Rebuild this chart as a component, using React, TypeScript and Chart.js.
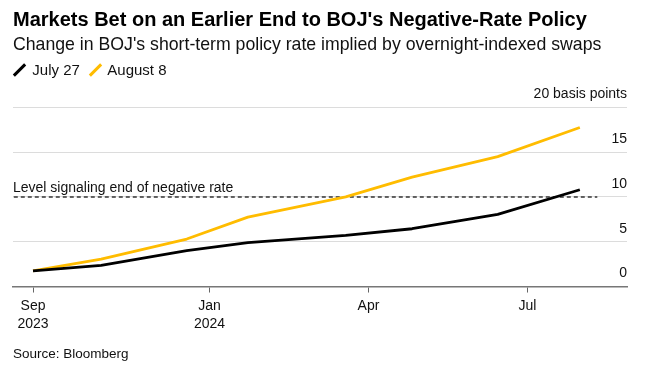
import React, { useEffect, useRef } from 'react';
import { Chart, registerables } from 'chart.js';

Chart.register(...registerables);

// ---- data ----
const meetingDates = ['2023-09-22', '2023-10-31', '2023-12-19', '2024-01-23', '2024-03-19', '2024-04-26', '2024-06-14', '2024-07-31'];
const july27 = [1.75, 2.35, 4.0, 4.9, 5.7, 6.45, 8.05, 10.8];
const august8 = [1.75, 3.05, 5.3, 7.75, 10.0, 12.2, 14.5, 17.75];
const seriesNames = ['July 27', 'August 8'];
const xTickDates = ['2023-09-22', '2024-01-01', '2024-04-01', '2024-07-01'];
const xTickLabels = [['Sep', '2023'], ['Jan', '2024'], ['Apr'], ['Jul']];
const yTicks = [0, 5, 10, 15, 20];
const yTickLabels = ['0', '5', '10', '15', '20 basis points'];
const thresholdLevel = 10;
const thresholdRange = ['2023-09-11', '2024-08-10'];
const thresholdLabel = 'Level signaling end of negative rate';
const xRange = ['2023-09-11', '2024-08-27'];

const title = "Markets Bet on an Earlier End to BOJ's Negative-Rate Policy";
const subtitle = "Change in BOJ's short-term policy rate implied by overnight-indexed swaps";
const source = 'Source: Bloomberg';

const FONT = '"Liberation Sans", Arial, Helvetica, sans-serif';
const YELLOW = '#FFBC00';

const dayNum = (s: string) => {
  const [y, m, d] = s.split('-').map(Number);
  return (Date.UTC(y, m - 1, d) - Date.UTC(2024, 0, 1)) / 86400000;
};

const levelLabelPlugin = {
  id: 'levelLabel',
  afterDraw(chart: any) {
    const { ctx, chartArea, scales } = chart;
    const y = scales.y.getPixelForValue(thresholdLevel);
    ctx.save();
    ctx.font = `14px ${FONT}`;
    ctx.fillStyle = '#111';
    ctx.textAlign = 'left';
    ctx.textBaseline = 'alphabetic';
    ctx.fillText(thresholdLabel, chartArea.left, y - 5);
    ctx.restore();
  },
};

export default function App() {
  const canvasRef = useRef<HTMLCanvasElement>(null);

  useEffect(() => {
    const xs = meetingDates.map(dayNum);
    const chart = new Chart(canvasRef.current!, {
      type: 'line',
      data: {
        datasets: [
          {
            label: seriesNames[0],
            data: xs.map((x, i) => ({ x, y: july27[i] })),
            borderColor: '#000',
            borderWidth: 2.8,
            pointRadius: 0,
            tension: 0,
            borderJoinStyle: 'round',
            order: 0,
          },
          {
            label: seriesNames[1],
            data: xs.map((x, i) => ({ x, y: august8[i] })),
            borderColor: YELLOW,
            borderWidth: 2.8,
            pointRadius: 0,
            tension: 0,
            borderJoinStyle: 'round',
            order: 1,
          },
          {
            label: 'threshold',
            data: thresholdRange.map((d) => ({ x: dayNum(d), y: thresholdLevel })),
            borderColor: '#333',
            borderWidth: 1.5,
            borderDash: [4, 3],
            pointRadius: 0,
            order: 2,
          },
        ],
      },
      options: {
        animation: false,
        responsive: false,
        maintainAspectRatio: false,
        layout: { padding: { left: 13, right: 21, top: 107.3, bottom: 30.5 } },
        plugins: { legend: { display: false }, tooltip: { enabled: false }, title: { display: false } },
        scales: {
          x: {
            type: 'linear',
            min: dayNum(xRange[0]) - 0.45,
            max: dayNum(xRange[1]),
            afterBuildTicks: (s: any) => {
              s.ticks = xTickDates.map((d) => ({ value: dayNum(d) }));
            },
            ticks: {
              callback: (_v: any, i: number) => xTickLabels[i],
              font: { size: 14, family: FONT, lineHeight: 1.32 },
              color: '#111',
              padding: 4,
              maxRotation: 0,
              autoSkip: false,
            },
            grid: { drawOnChartArea: false, drawTicks: true, tickLength: 6, tickColor: '#666', tickWidth: 1 },
            border: { display: true, color: '#777', width: 1.5 },
          },
          y: {
            type: 'linear',
            position: 'right',
            min: 0,
            max: 20,
            afterBuildTicks: (s: any) => {
              s.ticks = yTicks.map((v) => ({ value: v }));
            },
            ticks: {
              mirror: true,
              padding: 0,
              labelOffset: -13,
              callback: (_v: any, i: number) => yTickLabels[i],
              font: { size: 14, family: FONT },
              color: '#111',
            },
            grid: { color: '#dcdcdc', lineWidth: 1, drawTicks: false },
            border: { display: false },
          },
        },
      },
      plugins: [levelLabelPlugin],
    });
    return () => chart.destroy();
  }, []);

  const marker = (color: string, left: number) => (
    <div
      style={{
        position: 'absolute',
        left: left - 1.5,
        top: 62,
        width: 3,
        height: 16,
        background: color,
        transform: 'rotate(45deg)',
      }}
    />
  );

  return (
    <div style={{ position: 'fixed', left: 0, top: 0, width: 648, height: 368, background: '#fff', fontFamily: FONT, color: '#111' }}>
      <canvas ref={canvasRef} width={648} height={368} style={{ position: 'absolute', left: 0, top: 0, width: 648, height: 368 }} />
      <div style={{ position: 'absolute', left: 13, top: 9.1, fontSize: 20, lineHeight: '20px', fontWeight: 'bold', whiteSpace: 'nowrap', color: '#000' }}>{title}</div>
      <div style={{ position: 'absolute', left: 13, top: 35.8, fontSize: 17.7, lineHeight: '17.7px', whiteSpace: 'nowrap' }}>{subtitle}</div>
      {marker('#000', 19.7)}
      <div style={{ position: 'absolute', left: 32.3, top: 62.3, fontSize: 15, lineHeight: '15px', whiteSpace: 'nowrap' }}>{seriesNames[0]}</div>
      {marker(YELLOW, 95.2)}
      <div style={{ position: 'absolute', left: 107.3, top: 62.3, fontSize: 15, lineHeight: '15px', whiteSpace: 'nowrap' }}>{seriesNames[1]}</div>
      <div style={{ position: 'absolute', left: 13, top: 347.3, fontSize: 13.5, lineHeight: '13.5px', whiteSpace: 'nowrap' }}>{source}</div>
    </div>
  );
}
